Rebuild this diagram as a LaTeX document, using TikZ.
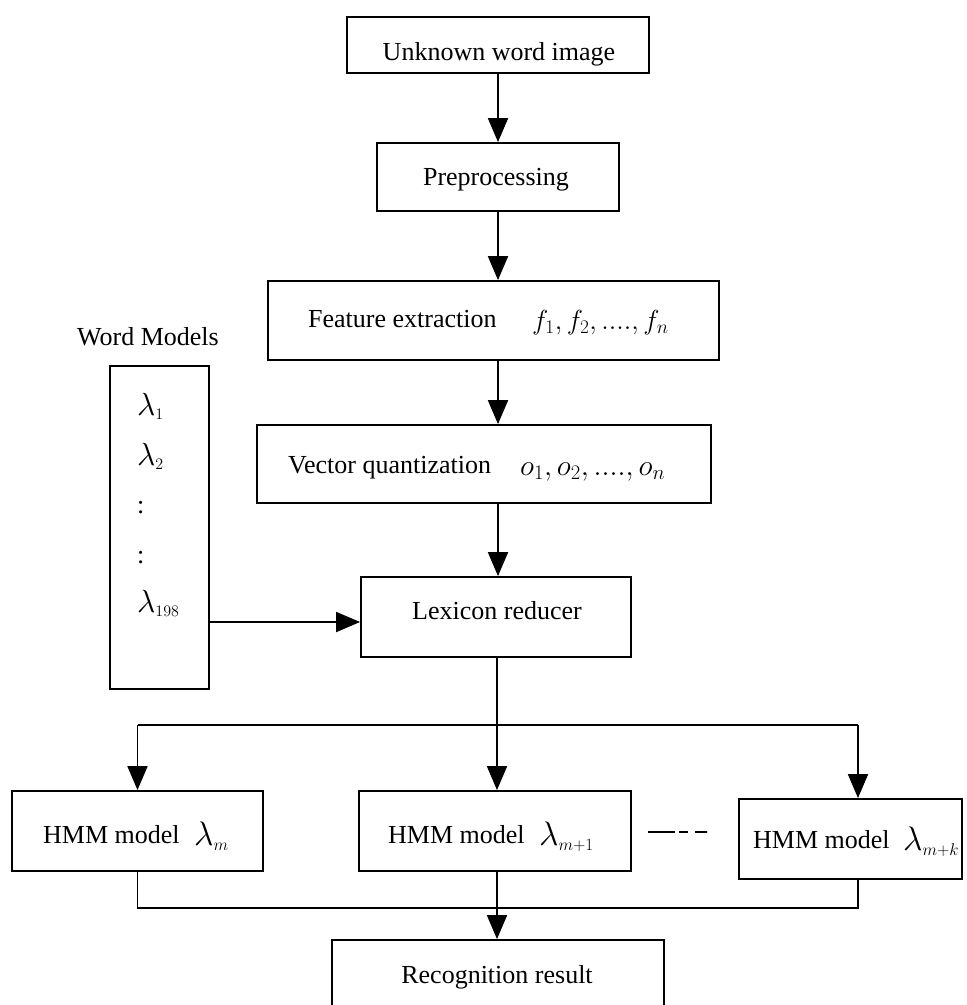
\RequirePackage{fix-cm}
\documentclass[tikz,border=0pt]{standalone}
\usepackage{fontspec}
\setmainfont{Liberation Serif}
\usetikzlibrary{arrows.meta}
\begin{document}
\begin{tikzpicture}[x=1pt,y=-1pt,
  box/.style={draw, line width=1.8pt, inner sep=0pt},
  lbl/.style={inner sep=0pt, anchor=base west, font=\fontsize{26}{30}\selectfont},
  clbl/.style={inner sep=0pt, anchor=base, font=\fontsize{26}{30}\selectfont},
  flbl/.style={inner sep=0pt, anchor=base west, font=\fontsize{27.5}{32}\selectfont},
  olbl/.style={inner sep=0pt, anchor=base west, font=\fontsize{29.5}{34}\selectfont},
  mlam/.style={inner sep=0pt, anchor=base west, font=\fontsize{34}{38}\selectfont},
  wlam/.style={inner sep=0pt, anchor=base west, font=\fontsize{32}{36}\selectfont},
  arr/.style={line width=1.8pt, -{Triangle[length=24pt,width=20pt]}},
  ln/.style={line width=1.8pt}]
\useasboundingbox (0,0) rectangle (967,1005);
\clip (0,0) rectangle (967,1005);

% boxes
\node[box, minimum width=302pt, minimum height=56pt] (unk) at (498,45) {};
\node[box, minimum width=242pt, minimum height=68pt] (pre) at (498,177) {};
\node[box, minimum width=451pt, minimum height=79pt] (fe) at (493.5,320.5) {};
\node[box, minimum width=454pt, minimum height=78pt] (vq) at (484,464) {};
\node[box, minimum width=270pt, minimum height=80pt] (lex) at (496,617) {};
\node[box, minimum width=99pt, minimum height=323pt] (wm) at (159.5,527.5) {};
\node[box, minimum width=251pt, minimum height=80pt] (h1) at (137.5,831) {};
\node[box, minimum width=272pt, minimum height=80pt] (h2) at (495,831) {};
\node[box, minimum width=223pt, minimum height=80pt] (h3) at (850.5,839) {};
\node[box, minimum width=332pt, minimum height=75pt] (rec) at (498,977.5) {};

% texts
\node[clbl] (tunk) at (499,60) {Unknown word image};
\node[clbl] (tpre) at (496,185) {Preprocessing};
\node[lbl] (tfe) at (308,327) {Feature extraction};
\node[flbl] (mfe) at (532,329) {$f_1, f_2,....,f_n$};
\node[lbl] (tvq) at (288,473) {Vector quantization};
\node[olbl] (mvq) at (520,475) {$o_1, o_2,....,o_n$};
\node[clbl] (tlex) at (497,619) {Lexicon reducer};
\node[clbl] (twm) at (148,345) {Word Models};
\node[wlam] (l1) at (137,415) {$\lambda_{\scriptscriptstyle 1}$};
\node[wlam] (l2) at (137,465) {$\lambda_{\scriptscriptstyle 2}$};
\node[lbl] (d1) at (137,513) {:};
\node[lbl] (d2) at (137,563) {:};
\node[wlam] (l3) at (137,612) {$\lambda_{\scriptscriptstyle 198}$};
\node[lbl] (th1) at (43,843) {HMM model};
\node[mlam] (mh1) at (194,845) {$\lambda_{\scriptscriptstyle m}$};
\node[lbl] (th2) at (388,843) {HMM model};
\node[mlam] (mh2) at (539,845) {$\lambda_{\scriptscriptstyle m+1}$};
\node[lbl] (th3) at (753,848) {HMM model};
\node[mlam] (mh3) at (903,850) {$\lambda_{\scriptscriptstyle m+k}$};
\node[clbl] (trec) at (497,983) {Recognition result};

% junction coordinates
\coordinate (jtop) at (497,725);
\coordinate (jr) at (858,725);
\coordinate (jb) at (497,908);
\coordinate (wa) at (0,622);
\coordinate (ds) at (648,832);
\coordinate (de) at (707,832);

% connectors
\draw[arr] (unk.south) -- (pre.north);
\draw[arr] (pre.south) -- (pre.south |- fe.north);
\draw[arr] (pre.south |- fe.south) -- (pre.south |- vq.north);
\draw[arr] (pre.south |- vq.south) -- (pre.south |- lex.north);
\draw[arr] (wm.east |- wa) -- (lex.west |- wa);
\draw[arr] (jtop |- lex.south) -- (jtop |- h2.north);
\draw[ln] (h1.north |- jtop) -- (jr);
\draw[arr] (h1.north |- jtop) -- (h1.north);
\draw[arr] (jr) -- (jr |- h3.north);
\draw[ln] (h1.south) -- (h1.south |- jb) -- (jr |- jb) -- (jr |- h3.south);
\draw[arr] (jb |- h2.south) -- (jb |- rec.north);
\draw[line width=1.5pt, dash pattern=on 27pt off 4pt on 9pt off 7pt on 12pt off 0pt] (ds) -- (de);
\end{tikzpicture}
\end{document}
